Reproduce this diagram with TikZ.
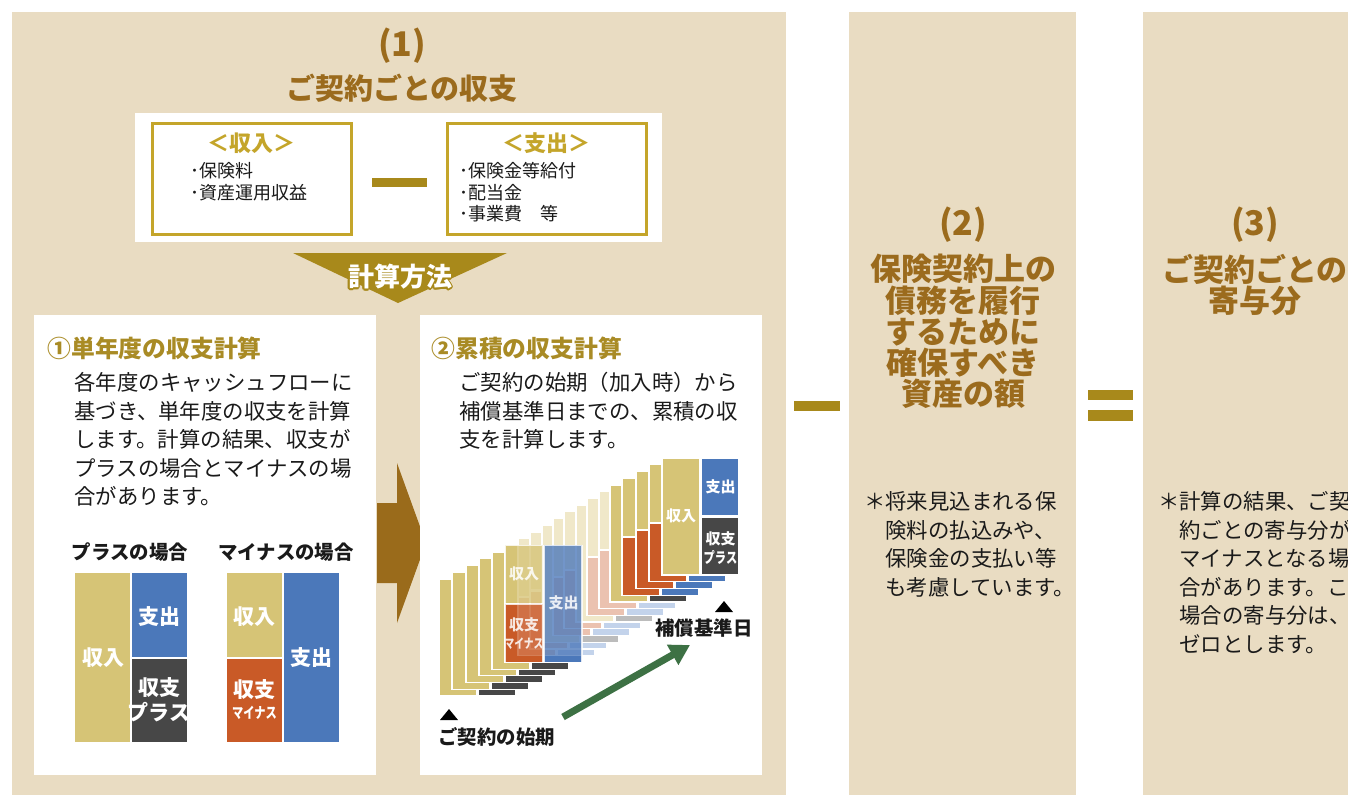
\documentclass[tikz,border=0pt]{standalone}
\usepackage{fontspec}
\usepackage{graphicx}
\setmainfont{Noto Sans CJK JP}
\usetikzlibrary{arrows.meta}

\definecolor{panelbg}{HTML}{E9DCC2}
\definecolor{titlebrown}{HTML}{9B6B1D}
\definecolor{headgold}{HTML}{A98B25}
\definecolor{boxgold}{HTML}{C4A52A}
\definecolor{signgold}{HTML}{A8891B}
\definecolor{arrowbrown}{HTML}{9A6B1B}
\definecolor{cgold}{HTML}{D6C476}
\definecolor{cblue}{HTML}{4B78BA}
\definecolor{cdark}{HTML}{474747}
\definecolor{cred}{HTML}{C95A27}
\definecolor{pgold}{HTML}{F0E8C9}
\definecolor{pblue}{HTML}{C3D3EB}
\definecolor{pgray}{HTML}{BCBCBC}
\definecolor{psalmon}{HTML}{EBC2B0}
\definecolor{growgreen}{HTML}{3D7144}
\definecolor{ink}{HTML}{1A1A1A}

\tikzset{
  panel/.style={fill=panelbg},
  card/.style={fill=white},
  goldbox/.style={draw=boxgold, line width=1.5pt},
  number/.style={text=titlebrown, font=\bfseries\fontsize{17}{17}\selectfont, inner sep=0pt},
  heading/.style={text=titlebrown, font=\bfseries\fontsize{15.5}{15.6}\selectfont, align=center, anchor=north, inner sep=0pt},
  subhead/.style={text=headgold, font=\bfseries\fontsize{11.9}{12}\selectfont, anchor=west, inner sep=0pt},
  boxhead/.style={text=boxgold, font=\bfseries\fontsize{11}{11}\selectfont, inner sep=0pt},
  body/.style={text=ink, font=\fontsize{10.7}{14.3}\selectfont, align=left, anchor=north west, inner sep=0pt},
  small/.style={text=ink, font=\fontsize{9}{10.75}\selectfont, align=left, anchor=north west, inner sep=0pt},
  caption/.style={text=ink, font=\bfseries\fontsize{9.7}{10}\selectfont, inner sep=0pt},
  inbar/.style={text=white, font=\bfseries\fontsize{10.5}{11}\selectfont, inner sep=0pt},
  inbarsmall/.style={text=white, font=\bfseries\fontsize{7.5}{8}\selectfont, inner sep=0pt},
  tiny/.style={text=white, font=\bfseries\fontsize{6.5}{6.5}\selectfont, inner sep=0pt},
  method/.style={font=\bfseries\fontsize{13}{13}\selectfont, inner sep=0pt},
  bar/.style={draw=white, line width=0.6pt},
  growth/.style={draw=growgreen, line width=3.5pt, -{Triangle[length=10pt,width=11pt]}},
}

% one year: income | expense over net
\newcommand{\pluschart}[5]{%
  \draw[bar, fill=#3] (#1,#2) rectangle ++(38,117);
  \draw[bar, fill=#4] (#1+39,#2) rectangle ++(38,58);
  \draw[bar, fill=#5] (#1+39,#2+59) rectangle ++(38,58);
}
\newcommand{\minuschart}[5]{%
  \draw[bar, fill=#3] (#1,#2) rectangle ++(38,58);
  \draw[bar, fill=#5] (#1,#2+59) rectangle ++(38,58);
  \draw[bar, fill=#4] (#1+39,#2) rectangle ++(38,117);
}
\newcommand{\narrow}[1]{\scalebox{0.75}[1]{#1}}

\begin{document}
\begin{tikzpicture}[x=0.5pt, y=-0.5pt]
  \useasboundingbox (0,0) rectangle (1348,794);
  \clip (0,0) rectangle (1348,794);
  \fill[white] (0,0) rectangle (1348,794);

  % the three columns
  \fill[panel] (12,12) rectangle (786,800);
  \fill[panel] (849,12) rectangle (1076,800);
  \fill[panel] (1143,12) rectangle (1400,800);

  % (1)
  \node[number] (n1) at (402,46) {(1)};
  \node[heading, anchor=center, font=\bfseries\fontsize{14.5}{15}\selectfont] (t1) at (402,88) {ご契約ごとの収支};

  \fill[card] (135,113) rectangle (662,242);
  \draw[goldbox] (152,123) rectangle (351,234);
  \draw[goldbox] (447,123) rectangle (646,234);
  \node[boxhead] (inc) at (251,143) {＜収入＞};
  \node[boxhead] (exp) at (546,143) {＜支出＞};
  \node[small] (incl) at (190,162) {･保険料\\･資産運用収益};
  \node[small] (expl) at (459,162) {･保険金等給付\\･配当金\\･事業費　等};
  \fill[signgold] (372,178) rectangle (427,187);

  % down arrow with its label
  \fill[signgold] (293,253) -- (507,253) -- (398,303) -- cycle;
  \foreach \a in {0,30,...,330}
    \node[method, text=signgold] at ([shift={(\a:0.9pt)}]400,277) {計算方法};
  \node[method, text=white] (meth) at (400,277) {計算方法};

  % single year
  \fill[card] (34,315) rectangle (376,775);
  \node[subhead] (s1) at (47,348) {①単年度の収支計算};
  \node[body] (b1) at (74,372) {各年度のキャッシュフローに\\基づき、単年度の収支を計算\\します。計算の結果、収支が\\プラスの場合とマイナスの場\\合があります。};
  \node[caption] (cp) at (130,552) {プラスの場合};
  \node[caption] (cm) at (286,552) {マイナスの場合};

  \fill[cgold] (75,573) rectangle (130,742);
  \fill[cblue] (132,573) rectangle (187,657);
  \fill[cdark] (132,659) rectangle (187,742);
  \node[inbar] (p1) at (103,658) {収入};
  \node[inbar] (p2) at (159,617) {支出};
  \node[inbar, align=center, font=\bfseries\fontsize{10.5}{12.5}\selectfont] (p3) at (159,700) {収支\\プラス};

  \fill[cgold] (227,573) rectangle (282,657);
  \fill[cred] (227,659) rectangle (282,742);
  \fill[cblue] (284,573) rectangle (339,742);
  \node[inbar] (m1) at (254.5,617) {収入};
  \node[inbar] (m2) at (254.5,690) {収支};
  \node[inbarsmall] (m3) at (254.5,713) {\narrow{マイナス}};
  \node[inbar] (m4) at (311.5,658) {支出};

  % arrow between the two cards
  \fill[arrowbrown] (377,503) -- (397,503) -- (397,463) -- (426,543)
    -- (397,623) -- (397,583) -- (377,583) -- cycle;

  % cumulative
  \fill[card] (420,315) rectangle (762,775);
  \node[subhead] (s2) at (431,348) {②累積の収支計算};
  \node[body] (b2) at (459,372) {ご契約の始期（加入時）から\\補償基準日までの、累積の収\\支を計算します。};

  % 0 plus, 1 minus, 2 plus faded, 3 minus faded
  \foreach \k/\x/\kind in {0/439/0,1/452/0,2/466/0,3/479/0,4/492/0,5/505/1,
      6/518/3,7/530/3,8/542/2,9/553/3,10/564/3,11/576/2,12/587/3,13/599/3,
      14/610/0,15/622/1,16/636/1,17/649/1,18/662/0}{
    \pgfmathsetmacro\ytop{579-6.72*\k}
    \ifcase\kind\relax \pluschart{\x}{\ytop}{cgold}{cblue}{cdark}
    \or \minuschart{\x}{\ytop}{cgold}{cblue}{cred}
    \or \pluschart{\x}{\ytop}{pgold}{pblue}{pgray}
    \or \minuschart{\x}{\ytop}{pgold}{pblue}{psalmon}
    \fi
  }
  \begin{scope}[opacity=0.78]
    \minuschart{505}{545.4}{cgold}{cblue}{cred}
  \end{scope}
  \node[inbarsmall, opacity=0.85] (o1) at (524,574) {収入};
  \node[inbarsmall, opacity=0.85] (o2) at (524,625) {収支};
  \node[tiny, opacity=0.85] (o3) at (524,644) {\narrow{マイナス}};
  \node[inbarsmall, opacity=0.85] (o4) at (563.5,603) {支出};
  \node[inbarsmall] (l1) at (681,516) {収入};
  \node[inbarsmall] (l2) at (720.5,487) {支出};
  \node[inbarsmall, align=center, font=\bfseries\fontsize{7.5}{9.5}\selectfont] (l3) at (720.5,548) {収支\\\narrow{プラス}};

  \fill (440,720) -- (458,720) -- (449,709) -- cycle;
  \fill (715,612) -- (733,612) -- (724,601) -- cycle;
  \node[caption, anchor=west] (start) at (438,737) {ご契約の始期};
  \node[caption, anchor=west] (due) at (655,628) {補償基準日};
  \coordinate (gstart) at (563,717);
  \coordinate (gend) at (690,645);
  \draw[growth] (gstart) -- (gend);

  % minus and equals
  \fill[signgold] (794,401) rectangle (840,411);
  \fill[signgold] (1088,390) rectangle (1133,400);
  \fill[signgold] (1088,410) rectangle (1133,421);

  % (2)
  \node[number] (n2) at (963,225) {(2)};
  \node[heading] (t2) at (963,254) {保険契約上の\\債務を履行\\するために\\確保すべき\\資産の額};
  \node[body] (f2) at (885,491) {\llap{＊}将来見込まれる保\\険料の払込みや、\\保険金の支払い等\\も考慮しています。};

  % (3)
  \node[number] (n3) at (1255,225) {(3)};
  \node[heading] (t3) at (1255,254) {ご契約ごとの\\寄与分};
  \node[body] (f3) at (1179,491) {\llap{＊}計算の結果、ご契\\約ごとの寄与分が\\マイナスとなる場\\合があります。この\\場合の寄与分は、\\ゼロとします。};
\end{tikzpicture}
\end{document}
